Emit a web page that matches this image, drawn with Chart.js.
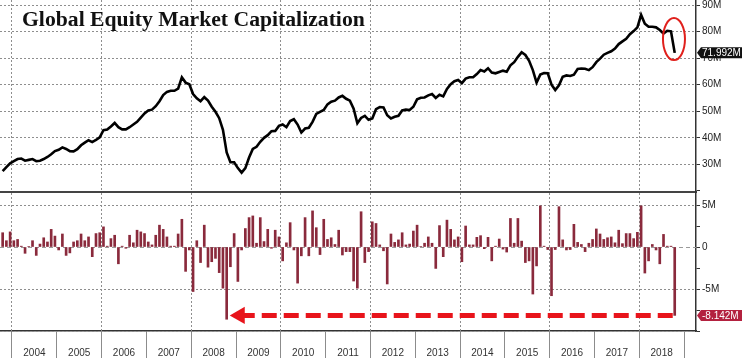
<!DOCTYPE html>
<html>
<head>
<meta charset="utf-8">
<script src="https://cdn.jsdelivr.net/npm/chart.js@4.4.0/dist/chart.umd.min.js"></script>
<style>
html,body{margin:0;padding:0;background:#fff;}
#wrap{position:relative;width:742px;height:362px;overflow:hidden;background:#fff;}
#c1{position:absolute;left:0;top:0;width:742px;height:194px;}
#c2{position:absolute;left:0;top:193px;width:742px;height:169px;}
#title{position:absolute;left:22px;top:8px;font:bold 21.7px 'Liberation Serif','Times New Roman',serif;line-height:22px;color:#111;white-space:nowrap;}
</style>
</head>
<body>
<div id="wrap">
<canvas id="c1" width="742" height="194"></canvas>
<canvas id="c2" width="742" height="169"></canvas>
<div id="title">Global Equity Market Capitalization</div>
</div>
<script>
// ---- categories ----
const yearLabels = ['2004','2005','2006','2007','2008','2009','2010','2011','2012','2013','2014','2015','2016','2017','2018'];
const firstMonthOffset = -3; // first value = Oct 2003 (months relative to Jan 2004)

// ---- series: global equity market capitalization (monthly, Oct 2003 .. Oct 2018) ----
const marketCap = [
 27.5,29.0,30.4,
 31.2,32.0,32.2,31.4,31.7,32.0,31.2,31.4,32.0,32.8,33.8,35.0,
 35.5,36.4,35.8,35.0,34.9,35.7,37.2,38.2,39.1,38.4,39.2,40.2,
 42.9,43.1,44.3,45.6,44.0,43.2,43.2,44.0,45.0,46.0,47.6,49.2,
 50.3,50.6,51.9,53.8,56.1,57.3,57.7,57.7,58.5,62.8,60.8,60.2,
 56.5,54.9,53.8,55.3,54.0,51.7,49.8,47.4,43.0,34.5,30.8,30.8,
 28.6,26.9,28.6,32.6,35.8,36.6,38.5,40.0,41.0,42.5,42.6,44.5,
 45.0,44.0,46.3,47.0,45.0,42.0,43.5,43.8,46.0,49.0,49.8,50.5,
 52.6,53.6,54.0,55.2,55.8,54.7,54.0,51.0,45.5,47.5,48.3,46.8,
 47.3,50.8,51.6,51.4,48.5,47.3,47.9,48.3,50.3,50.6,50.5,51.7,
 54.5,55.1,55.2,56.0,56.5,55.0,56.2,55.6,58.4,60.2,61.3,61.8,
 60.6,62.3,62.8,62.8,64.0,65.5,65.0,66.2,64.6,64.3,64.8,65.3,
 64.9,67.3,68.5,70.5,72.2,71.2,69.0,65.5,60.8,63.8,64.4,64.3,
 60.0,58.0,59.8,63.0,63.5,63.3,63.8,65.9,66.1,66.0,65.5,66.6,
 68.5,69.8,71.3,72.0,72.6,73.6,75.3,76.3,77.3,79.0,80.2,81.6,
 86.3,83.0,81.8,81.8,81.6,80.6,79.3,80.3,80.1,71.992
];

// ---- series: monthly change ----
const monthlyChange = [
 1.7,0.75,1.8,
 0.75,0.9,0.1,-0.75,0.05,0.75,-1.0,0.35,1.1,0.6,2.1,1.3,
 -0.35,1.55,-1.0,-0.7,0.6,0.75,1.55,0.75,1.2,-1.15,1.6,1.7,
 2.4,0.1,1.0,1.4,-2.0,0.1,-0.15,1.4,0.5,2.0,1.8,1.6,
 0.6,0.25,1.4,2.6,2.1,1.2,0.1,0.1,1.55,3.3,-2.9,-0.35,
 -5.3,0.75,-1.85,2.6,-2.4,-1.75,-1.35,-3.05,-4.9,-8.6,-2.35,1.6,
 -4.1,-0.35,2.2,3.5,3.7,0.45,3.5,0.65,2.1,-0.15,2.0,1.2,
 -1.65,0.5,2.9,-0.35,-4.3,-1.05,3.5,-1.05,4.3,2.3,-0.9,3.3,
 0.9,1.1,0.3,2.0,-0.95,-0.55,-0.55,-4.05,-4.9,4.2,-1.85,-0.55,
 3.0,2.8,0.25,-0.45,-4.4,1.55,0.55,0.85,1.7,0.25,0.35,1.9,
 2.6,0.05,0.45,1.2,0.45,-2.55,2.55,-1.15,3.2,2.1,0.85,1.2,
 -1.75,2.5,0.25,0.25,1.15,1.35,-0.2,1.15,-1.65,0.1,0.95,-0.25,
 -0.6,3.4,0.45,3.4,0.7,-1.85,-1.65,-5.6,-2.25,4.9,0.1,-0.3,
 -5.8,-0.3,4.8,0.85,-0.35,-0.3,2.7,0.55,0.3,-0.55,0.45,0.9,
 2.15,1.55,0.9,1.1,1.2,0.5,2.0,0.4,1.6,1.6,1.0,1.75,
 4.9,-3.1,-1.65,0.3,-0.35,-2.0,1.5,0.1,0.1,-8.142
];

// ---- tick labels ----
const capTickValues = [30,40,50,60,70,80,90];
const capTickLabels = ['30M','40M','50M','60M','70M','80M','90M'];
const changeTickValues = [-5,0,5];
const changeTickLabels = ['-5M','0','5M'];

// arrow annotation (month index where the arrow head sits)
const arrowStartMonth = 61;

// ---- layout / style constants ----
const X_MIN = -3.21, X_MAX = 183.2;
const AXIS_W = 46;
const FONT = "'Liberation Sans','Arial',sans-serif";
const TRANSP = 'rgba(0,0,0,0)';
const DOT = '#8e8e8e';

const monthX = i => firstMonthOffset + i + 0.5;
const capPoints = marketCap.map((v, i) => ({x: monthX(i), y: v}));
const changePoints = monthlyChange.map((v, i) => ({x: monthX(i), y: v}));
const lastIdx = monthlyChange.length - 1;
const evenYearStarts = yearLabels.map((_, k) => 12 * k).filter(v => v % 24 === 0);

function boundaryTicks(scale, withCenters) {
  const t = [];
  for (let k = 0; k <= yearLabels.length; k++) {
    t.push({value: 12 * k});
    if (withCenters && k < yearLabels.length) t.push({value: 12 * k + 6});
  }
  scale.ticks = t;
}
function zeroPad(s) { s.paddingTop = 0; s.paddingBottom = 0; s.paddingLeft = 0; s.paddingRight = 0; }

// dotted grid lines, positioned through the chart's own scales
function makeGridPlugin(cfg) {
  return {
    id: 'dottedGrid',
    beforeDatasetsDraw(chart) {
      const {ctx, chartArea: a} = chart;
      const xs = chart.scales.x, ys = chart.scales.y;
      ctx.save();
      ctx.fillStyle = DOT;
      cfg.yDots.forEach(v => {
        const y = Math.floor(ys.getPixelForValue(v));
        for (let x = a.left; x < a.right; x += 4) ctx.fillRect(x, y, 2, 1);
      });
      ctx.fillStyle = '#9a9a9a';
      cfg.yDash.forEach(v => {
        const y = Math.floor(ys.getPixelForValue(v));
        for (let x = a.left; x < a.right; x += 7) ctx.fillRect(x, y, Math.min(4, a.right - x), 1);
      });
      ctx.fillStyle = DOT;
      cfg.xDots.forEach(v => {
        const x = Math.floor(xs.getPixelForValue(v));
        for (let y = a.top; y < a.bottom; y += 4) ctx.fillRect(x, y, 1, 2);
      });
      ctx.restore();
    }
  };
}

function valueTag(chart, value, text, bg) {
  const {ctx, chartArea} = chart;
  const y = chart.scales.y.getPixelForValue(value);
  const x0 = chartArea.right + 1;
  const h = 11;
  ctx.save();
  ctx.fillStyle = bg;
  ctx.beginPath();
  ctx.moveTo(x0, y); ctx.lineTo(x0 + 4, y - h / 2); ctx.lineTo(chart.width, y - h / 2);
  ctx.lineTo(chart.width, y + h / 2); ctx.lineTo(x0 + 4, y + h / 2); ctx.closePath();
  ctx.fill();
  ctx.fillStyle = '#fff';
  ctx.font = '10px ' + FONT;
  ctx.textBaseline = 'middle'; ctx.textAlign = 'left';
  ctx.fillText(text, x0 + 5, y + 0.5);
  ctx.restore();
}

Chart.defaults.font.family = FONT;
Chart.defaults.color = '#222';

// ---------- upper chart: market cap line ----------
new Chart(document.getElementById('c1'), {
  type: 'line',
  data: {datasets: [{data: capPoints, borderColor: '#000', borderWidth: 2.6, pointRadius: 0, tension: 0, fill: false}]},
  options: {
    responsive: false, animation: false, devicePixelRatio: 1, events: [],
    layout: {padding: 0, autoPadding: false},
    plugins: {legend: {display: false}, tooltip: {enabled: false}},
    scales: {
      x: {
        type: 'linear', min: X_MIN, max: X_MAX, offset: false,
        afterBuildTicks: s => boundaryTicks(s, false),
        afterFit: s => { s.height = 2; zeroPad(s); },
        ticks: {display: false, maxTicksLimit: 100},
        grid: {drawTicks: false, drawOnChartArea: false},
        border: {display: true, color: '#444', width: 2}
      },
      y: {
        type: 'linear', position: 'right', min: 19.6, max: 91.9,
        afterBuildTicks: s => { const t = []; for (let v = 20; v <= 90; v += 5) t.push({value: v}); s.ticks = t; },
        afterFit: s => { s.width = AXIS_W; zeroPad(s); },
        ticks: {padding: 2, font: {size: 10}, color: '#222', maxTicksLimit: 100,
          callback: v => { const i = capTickValues.indexOf(v); return i >= 0 ? capTickLabels[i] : ''; }},
        grid: {drawOnChartArea: false, lineWidth: 1, tickLength: 4, tickWidth: 1, tickColor: '#333'},
        border: {display: true, color: '#333', width: 1.5}
      }
    }
  },
  plugins: [makeGridPlugin({yDots: capTickValues, yDash: [], xDots: evenYearStarts}), {
    id: 'upperMarks',
    afterDraw(chart) {
      const {ctx} = chart;
      const xs = chart.scales.x, ys = chart.scales.y;
      // red ellipse around the latest drop
      const cx = xs.getPixelForValue(capPoints[lastIdx].x - 0.2);
      const cy = ys.getPixelForValue((marketCap[lastIdx] + marketCap[lastIdx - 1]) / 2) - 3;
      ctx.save();
      ctx.strokeStyle = '#e0201c'; ctx.lineWidth = 2;
      ctx.beginPath(); ctx.ellipse(cx, cy, 11, 21, 0, 0, Math.PI * 2); ctx.stroke();
      ctx.restore();
      valueTag(chart, marketCap[lastIdx], marketCap[lastIdx].toFixed(3) + 'M', '#111');
    }
  }]
});

// ---------- lower chart: monthly change bars ----------
new Chart(document.getElementById('c2'), {
  type: 'bar',
  data: {
    datasets: [{
      type: 'line',
      data: [{x: arrowStartMonth, y: monthlyChange[lastIdx]}, {x: changePoints[lastIdx].x, y: monthlyChange[lastIdx]}],
      borderColor: '#e8141b', backgroundColor: '#e8141b', borderWidth: 5, borderDash: [15, 7],
      pointStyle: 'triangle', pointRotation: -90, pointRadius: [10, 0], pointBorderWidth: 0,
      pointBackgroundColor: '#e8141b', tension: 0, fill: false, clip: false
    }, {
      type: 'bar', data: changePoints, backgroundColor: '#8a2a3c', borderWidth: 0, barThickness: 2
    }]
  },
  options: {
    responsive: false, animation: false, devicePixelRatio: 1, events: [],
    layout: {padding: 0, autoPadding: false},
    plugins: {legend: {display: false}, tooltip: {enabled: false}},
    scales: {
      x: {
        type: 'linear', min: X_MIN, max: X_MAX, offset: false,
        afterBuildTicks: s => boundaryTicks(s, true),
        afterFit: s => { s.height = 31; zeroPad(s); },
        ticks: {autoSkip: false, maxRotation: 0, minRotation: 0, padding: -10.5, font: {size: 10}, color: '#333',
          maxTicksLimit: 100,
          callback: v => (v % 12 === 6) ? yearLabels[(v - 6) / 12] : ''},
        grid: {offset: false, drawOnChartArea: false, lineWidth: 1, tickLength: 27, tickWidth: 1,
          tickColor: c => (c.tick && c.tick.value % 12 === 0) ? '#8c8c8c' : TRANSP},
        border: {display: true, color: '#333', width: 1.5}
      },
      y: {
        type: 'linear', position: 'right', min: -10, max: 6.43,
        afterBuildTicks: s => { const t = []; for (let v = -10; v <= 5; v += 2.5) t.push({value: v}); s.ticks = t; },
        afterFit: s => { s.width = AXIS_W; zeroPad(s); },
        ticks: {padding: 2, font: {size: 10}, color: '#222', maxTicksLimit: 100,
          callback: v => { const i = changeTickValues.indexOf(v); return i >= 0 ? changeTickLabels[i] : ''; }},
        grid: {drawOnChartArea: false, lineWidth: 1, tickLength: 4, tickWidth: 1, tickColor: '#333'},
        border: {display: true, color: '#333', width: 1.5}
      }
    }
  },
  plugins: [makeGridPlugin({yDots: [-10, -5, 5], yDash: [0], xDots: evenYearStarts}), {
    id: 'lowerTag',
    afterDraw(chart) { valueTag(chart, monthlyChange[lastIdx], monthlyChange[lastIdx].toFixed(3) + 'M', '#b3213f'); }
  }]
});
</script>
</body>
</html>
